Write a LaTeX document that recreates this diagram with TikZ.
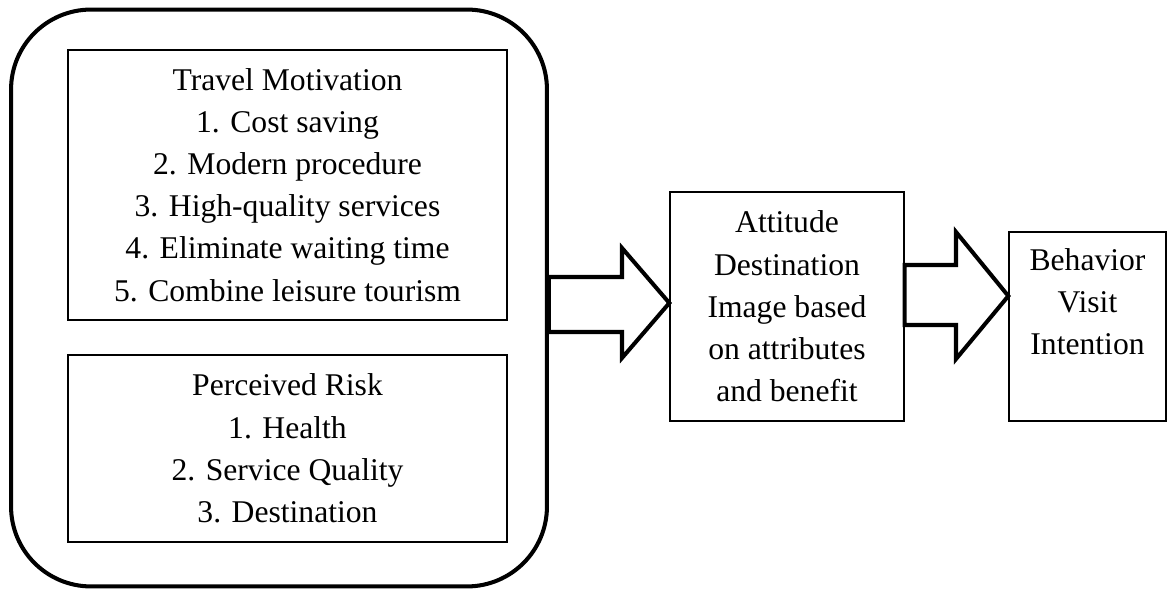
\documentclass[tikz,border=0pt]{standalone}
\usepackage{fontspec}
\setmainfont{Liberation Serif}
\usetikzlibrary{positioning}
\tikzset{
    textbox/.style={draw, line width=0.8pt, align=center, inner sep=0pt, font=\fontsize{18}{24}\selectfont}, % the plain boxes
    boxtext/.style={align=center, inner sep=0pt, font=\fontsize{18}{24}\selectfont}, % text set apart from its box
    bigarrow/.style={draw, line width=2.3pt, line join=miter}, % hollow block arrows
}
\begin{document}
\begin{tikzpicture}[x=0.02cm, y=-0.02cm]
    \useasboundingbox (0,0) rectangle (1169,590);
    \node[draw, line width=2.3pt, rounded corners=1.6cm, minimum width=10.72cm, minimum height=11.54cm] (outer) at (279,298) {};
    \node[textbox, minimum width=8.78cm, minimum height=5.4cm] (motiv) at (287.5,185) {Travel Motivation\\1. Cost saving\\2. Modern procedure\\3. High-quality services\\4. Eliminate waiting time\\5. Combine leisure tourism};
    \node[textbox, minimum width=8.78cm, minimum height=3.74cm] (risk) at (287.5,448.5) {Perceived Risk\\1. Health\\2. Service Quality\\3. Destination};
    \node[textbox, minimum width=4.68cm, minimum height=4.58cm] (att) at (787,306.5) {Attitude\\Destination\\Image based\\on attributes\\and benefit};
    \node[textbox, minimum width=3.14cm, minimum height=3.78cm] (behav) at (1087.5,326.5) {};
    \node[boxtext, below=0.34cm of behav.north] (behavtxt) {Behavior\\Visit\\Intention};
    \draw[bigarrow] (outer.east |- 0,277) -- (622,277) -- (622,248) -- (att.west |- 0,303) -- (622,358) -- (622,332) -- (outer.east |- 0,332) -- cycle;
    \draw[bigarrow] (att.east |- 0,265) -- (956,265) -- (956,232) -- (behav.west |- 0,296) -- (956,359) -- (956,325) -- (att.east |- 0,325) -- cycle;
\end{tikzpicture}
\end{document}
